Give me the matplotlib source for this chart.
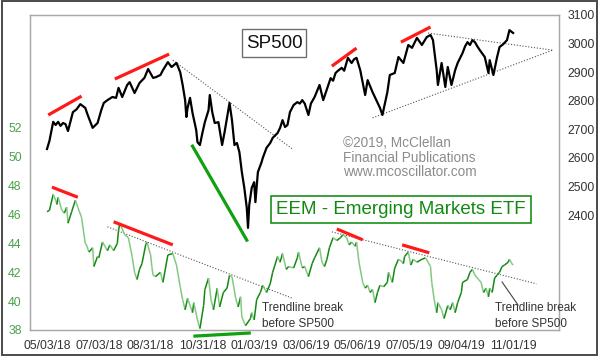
import numpy as np
import matplotlib
matplotlib.use("Agg")
import matplotlib.pyplot as plt
from matplotlib.collections import LineCollection
from matplotlib.patches import Rectangle

plt.rcParams['font.family'] = ['Liberation Sans', 'DejaVu Sans']

# ось X - номер торговой сессии от 05/03/18
tick_days = [0, 42, 84, 126, 168, 210, 252, 294, 336, 378]
tick_labels = ["05/03/18", "07/03/18", "08/31/18", "10/31/18", "01/03/19",
               "03/06/19", "05/06/19", "07/05/19", "09/04/19", "11/01/19"]

# SP500 (правая шкала)
sp_day = [0, 2, 5, 7, 9, 11, 13, 15, 17, 21,
          24, 27, 31, 33, 37, 41, 44, 46, 49, 53,
          56, 58, 61, 65, 67, 71, 75, 79, 82, 86,
          88, 92, 94, 98, 101, 105, 108, 110, 112, 113,
          114, 116, 118, 121, 122, 124, 126, 128, 131, 132,
          134, 136, 139, 142, 144, 148, 150, 152, 154, 156,
          158, 160, 162, 163, 164, 166, 168, 169, 171, 174,
          175, 178, 181, 183, 187, 189, 191, 193, 195, 197,
          200, 203, 205, 207, 209, 212, 214, 217, 221, 224,
          227, 230, 232, 234, 236, 239, 241, 244, 247, 249,
          251, 254, 258, 260, 264, 270, 272, 276, 278, 282,
          285, 289, 293, 296, 300, 304, 308, 311, 313, 316,
          317, 320, 323, 325, 328, 331, 333, 337, 339, 341,
          343, 345, 347, 349, 351, 353, 355, 358, 359, 362,
          365, 367, 370, 373, 375, 378]
sp_val = [2631, 2660, 2726, 2715, 2726, 2712, 2722, 2718, 2694, 2760,
          2770, 2788, 2775, 2750, 2705, 2722, 2767, 2792, 2802, 2813,
          2810, 2845, 2813, 2855, 2865, 2827, 2862, 2880, 2911, 2880,
          2882, 2890, 2907, 2935, 2918, 2932, 2900, 2855, 2802, 2743,
          2775, 2810, 2757, 2697, 2655, 2645, 2687, 2725, 2767, 2820,
          2760, 2722, 2725, 2645, 2690, 2792, 2732, 2645, 2652, 2620,
          2550, 2495, 2425, 2355, 2435, 2495, 2515, 2445, 2550, 2585,
          2600, 2635, 2652, 2670, 2687, 2705, 2732, 2708, 2715, 2760,
          2785, 2795, 2790, 2802, 2790, 2750, 2790, 2813, 2855, 2802,
          2840, 2879, 2870, 2897, 2905, 2915, 2905, 2950, 2932, 2945,
          2950, 2907, 2820, 2872, 2830, 2775, 2750, 2830, 2890, 2897,
          2953, 2932, 2995, 2985, 3020, 2995, 3023, 3030, 3012, 2907,
          2855, 2932, 2848, 2918, 2855, 2907, 2932, 2967, 2990, 3005,
          2995, 3012, 3005, 2990, 2977, 2965, 2953, 2897, 2942, 2890,
          2953, 2988, 2998, 3012, 3047, 3037]

# EEM (левая шкала)
eem_day = [0, 2, 5, 7, 8, 9, 12, 14, 16, 17,
           20, 23, 25, 28, 31, 32, 34, 37, 38, 41,
           42, 45, 49, 51, 54, 57, 58, 59, 63, 66,
           69, 71, 73, 75, 77, 80, 81, 84, 85, 86,
           88, 92, 94, 98, 102, 105, 108, 110, 112, 114,
           118, 119, 122, 124, 127, 128, 131, 133, 135, 138,
           140, 143, 146, 148, 150, 153, 155, 157, 158, 161,
           165, 166, 168, 170, 173, 175, 178, 181, 183, 187,
           189, 191, 194, 196, 200, 203, 204, 207, 209, 212,
           215, 217, 221, 223, 225, 227, 229, 232, 235, 238,
           240, 243, 245, 247, 250, 251, 253, 256, 258, 260,
           262, 264, 266, 268, 270, 273, 276, 277, 280, 282,
           285, 287, 289, 290, 293, 295, 297, 300, 304, 307,
           309, 311, 312, 314, 316, 317, 320, 322, 325, 327,
           329, 331, 333, 336, 337, 341, 343, 345, 347, 350,
           352, 354, 356, 358, 359, 361, 363, 365, 367, 369,
           371, 374, 375, 377, 378]
eem_val = [46.2, 46.3, 47.4, 47.0, 46.7, 47.2, 46.3, 46.1, 46.5, 45.4,
           46.2, 47.0, 46.5, 45.8, 44.0, 43.9, 43.4, 43.7, 42.4, 43.1,
           43.0, 44.1, 43.5, 43.9, 43.5, 44.0, 44.9, 45.4, 44.6, 44.4,
           43.1, 42.0, 41.5, 42.2, 42.6, 43.9, 44.1, 43.2, 42.4, 41.8,
           41.7, 42.0, 41.3, 43.2, 43.3, 42.5, 41.0, 40.1, 39.4, 40.2,
           39.2, 39.9, 38.7, 38.1, 39.7, 40.8, 41.6, 40.1, 39.4, 40.9,
           39.6, 40.6, 40.9, 41.8, 41.7, 40.2, 39.6, 40.3, 38.9, 38.3,
           38.8, 39.2, 38.7, 40.1, 40.6, 41.1, 40.6, 41.2, 42.0, 43.1,
           42.7, 43.3, 42.2, 42.4, 42.3, 43.0, 43.4, 42.3, 42.4, 41.7,
           42.6, 43.0, 43.7, 42.7, 42.4, 42.9, 43.7, 44.4, 44.2, 44.4,
           44.6, 44.4, 43.9, 44.1, 43.8, 44.1, 42.7, 41.3, 40.9, 41.1,
           40.6, 40.8, 39.9, 40.6, 41.1, 41.0, 41.3, 42.0, 41.3, 42.3,
           42.9, 42.8, 42.6, 43.1, 43.4, 42.5, 42.9, 42.7, 42.9, 43.0,
           42.7, 42.4, 41.3, 40.1, 39.2, 39.9, 39.4, 38.8, 39.7, 39.4,
           39.9, 39.2, 39.9, 40.6, 41.3, 41.5, 42.0, 42.2, 41.8, 41.5,
           41.3, 40.6, 40.9, 40.3, 40.9, 40.6, 41.6, 41.8, 42.0, 42.4,
           42.5, 42.7, 42.9, 42.6, 42.5]

# линии разметки (сессия, значение)
sp_red = [[(1, 2750), (28, 2816)], [(55, 2876), (99, 2963)],
          [(231, 2921), (251, 2984)], [(287, 3005), (311, 3058)]]
sp_green = [(118, 2641), (162, 2312)]
sp_dotted = [[(102, 2942), (199, 2631)], [(309, 3037), (410, 2977)],
             [(264, 2740), (410, 2977)]]
eem_red = [[(4, 47.9), (25, 47.2)], [(54, 45.5), (102, 43.9)],
           [(235, 45.0), (256, 44.25)], [(288, 43.9), (310, 43.35)]]
eem_green_base = [(120, 37.58), (164, 37.79)]
eem_dotted = [[(49, 45.15), (199, 40.2)], [(231, 44.8), (397, 41.2)]]
pointer = [(369, 41.33), (382, 39.73)]

W, H = 600, 359
fig = plt.figure(figsize=(W / 100, H / 100), dpi=100)
ax = fig.add_axes([30 / W, 1 - 330 / H, 529 / W, 315 / H])
ax2 = ax.twinx()

# внешняя рамка
fig.patches.append(Rectangle((2 / W, 1 - 355 / H), 595 / W, 354 / H,
                             transform=fig.transFigure, fill=False,
                             edgecolor="#4a4a4a", lw=1.4))

ax.set_xlim(-13.8, 415.2)
ax.set_ylim(38, 59.83)
ax2.set_ylim(1997.5, 3100)
ax.set_xticks(tick_days)
ax.set_xticklabels(tick_labels)
ax.set_yticks(range(38, 53, 2))
ax2.set_yticks(range(2400, 3101, 100))

for a in (ax, ax2):
    for s in a.spines.values():
        s.set_color("#a8a8a8")
        s.set_linewidth(0.9)
ax.tick_params(axis="x", length=0, pad=7, labelsize=8.8, labelcolor="#333333")
ax.tick_params(axis="y", length=0, pad=6, labelsize=8.8, labelcolor="#4aa04a")
ax2.tick_params(axis="y", length=0, pad=6, labelsize=8.8, labelcolor="#333333")

dot_kw = dict(color="#555555", lw=0.8, linestyle=(0, (1, 1.6)))

# EEM - цвет сегмента по направлению
pts = np.column_stack([eem_day, eem_val])
segs = np.stack([pts[:-1], pts[1:]], axis=1)
up = np.diff(eem_val) >= 0
cols = np.where(up, "#138a13", "#84c884")
ax.add_collection(LineCollection(segs, colors=cols, linewidths=1.1, zorder=3))

for ln in eem_dotted:
    ax.plot(*zip(*ln), **dot_kw, zorder=2)
for ln in eem_red:
    ax.plot(*zip(*ln), color="#ff1a1a", lw=2.3, solid_capstyle="butt", zorder=4)
ax.plot(*zip(*eem_green_base), color="#10a010", lw=2.3, clip_on=False, zorder=4)
ax.plot(*zip(*pointer), color="#444444", lw=0.8, zorder=4)

# SP500
ax2.plot(sp_day, sp_val, color="black", lw=1.6, zorder=3)
for ln in sp_dotted:
    ax2.plot(*zip(*ln), **dot_kw, zorder=2)
for ln in sp_red:
    ax2.plot(*zip(*ln), color="#ff1a1a", lw=2.3, solid_capstyle="butt", zorder=4)
ax2.plot(*zip(*sp_green), color="#10a010", lw=2.3, zorder=4)

# подписи в рамках
fig.patches.append(Rectangle((242 / W, 1 - 57 / H), 64 / W, 28 / H,
                             transform=fig.transFigure, fill=False,
                             edgecolor="#707070", lw=1.0))
fig.text(274 / W, 1 - 43.5 / H, "SP500", fontsize=13.5, color="#111111",
         ha="center", va="center")
fig.patches.append(Rectangle((271 / W, 1 - 223 / H), 260 / W, 27 / H,
                             transform=fig.transFigure, fill=False,
                             edgecolor="#1a8f1a", lw=1.2))
fig.text(401 / W, 1 - 209.5 / H, "EEM - Emerging Markets ETF", fontsize=13.5,
         color="#108a10", ha="center", va="center")

for i, line in enumerate(["\u00a92019, McClellan", "Financial Publications",
                          "www.mcoscillator.com"]):
    fig.text(343 / W, 1 - (143 + 14.5 * i) / H, line, fontsize=9.8,
             color="#8c8c8c", ha="left", va="center")

for x0 in (262, 495):
    fig.text(x0 / W, 1 - 308 / H, "Trendline break", fontsize=8.5,
             color="#333333", ha="left", va="center")
    fig.text(x0 / W, 1 - 324 / H, "before SP500", fontsize=8.5,
             color="#333333", ha="left", va="center")

fig.savefig("out.png", dpi=100)
